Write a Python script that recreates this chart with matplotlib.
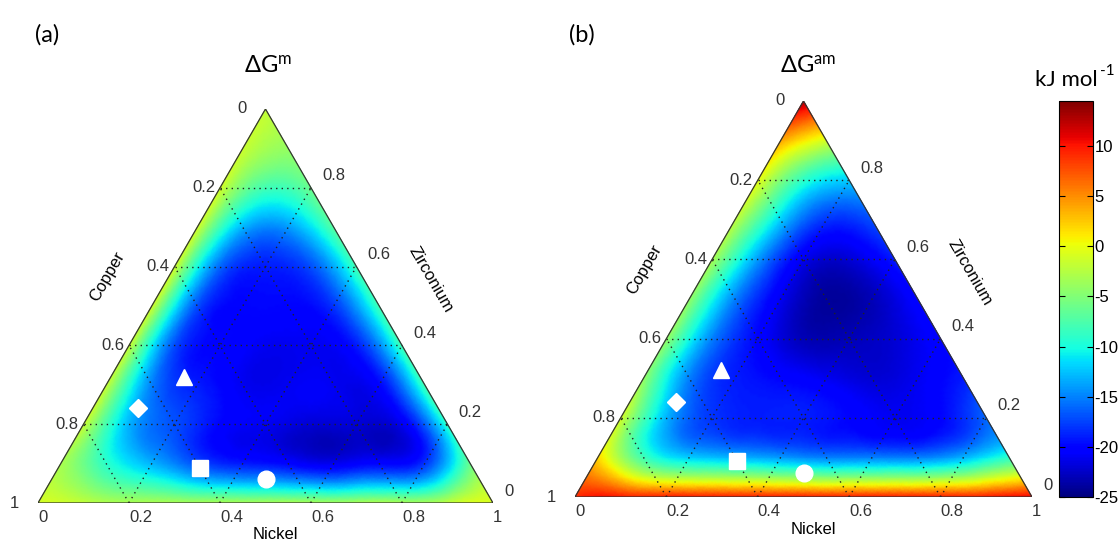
import numpy as np
import matplotlib
matplotlib.use("Agg")
import matplotlib.pyplot as plt
import matplotlib.tri as mtri

plt.rcParams["axes.unicode_minus"] = False
plt.rcParams["font.family"] = ["Liberation Sans", "DejaVu Sans"]

# field values (kJ/mol) on a 0.1 composition grid
# row j -> Zirconium = j/10 ; entry i -> Nickel = i/10 ; Copper = rest
gm_rows = [
    [-1, -2, -3, -3, -3, -3, -3, -3, -3, -2, -1],
    [-3, -9, -13, -17, -19, -20, -21, -20, -18, -6],
    [-1.5, -13, -17, -20, -21, -22, -22, -21, -9],
    [-1.5, -15, -19, -21, -21, -21, -20, -8],
    [-1.5, -17, -20, -21, -21, -19, -8],
    [-1, -17, -20, -20, -18, -8],
    [-1, -16, -19, -17, -8],
    [-1, -13, -14, -7],
    [-1, -8, -6],
    [-1.5, -4],
    [-2],
]
gam_rows = [
    [9, 10, 10, 10, 10, 10, 10, 10, 10, 10, 11],
    [2, -8, -12, -13, -14, -15, -15, -15, -13, -9],
    [-1, -13, -18, -19, -19, -20, -21, -20, -16],
    [-4, -15, -19, -20, -21, -22, -21, -19],
    [-4, -15, -20, -23, -23, -22, -20],
    [-4, -15, -21, -24, -23, -20],
    [-3, -14, -21, -22, -19],
    [-2, -12, -18, -17],
    [0, -9, -12],
    [4, -1],
    [13],
]

# alloy compositions marked on both maps
marker_ni = [0.16, 0.10, 0.31, 0.47]
marker_zr = [0.32, 0.24, 0.09, 0.06]
marker_shape = ["^", "D", "s", "o"]
marker_size = [12, 9.5, 12, 12]

tick_vals = [0, 0.2, 0.4, 0.6, 0.8, 1]
tick_text = ["0", "0.2", "0.4", "0.6", "0.8", "1"]
cbar_ticks = [-25, -20, -15, -10, -5, 0, 5, 10]
vmin, vmax = -25, 14.5

H = np.sqrt(3) / 2
W, HT = 1119, 543


def tern(ni, zr):
    ni = np.asarray(ni, float)
    zr = np.asarray(zr, float)
    return ni + 0.5 * zr, H * zr


def panel(ax, rows):
    ni, zr, val, idx = [], [], [], {}
    for j, row in enumerate(rows):
        for i, v in enumerate(row):
            idx[(i, j)] = len(val)
            ni.append(i / 10)
            zr.append(j / 10)
            val.append(v)
    tris = []
    for j in range(10):
        for i in range(10 - j):
            tris.append([idx[(i, j)], idx[(i + 1, j)], idx[(i, j + 1)]])
            if i + j <= 8:
                tris.append([idx[(i + 1, j)], idx[(i + 1, j + 1)], idx[(i, j + 1)]])
    x, y = tern(ni, zr)
    tri = mtri.Triangulation(x, y, tris)
    tri_f, val_f = mtri.UniformTriRefiner(tri).refine_field(np.array(val, float), subdiv=4)
    pc = ax.tripcolor(tri_f, val_f, cmap="jet", vmin=vmin, vmax=vmax, shading="gouraud")

    # dotted grid
    for t in [0.2, 0.4, 0.6, 0.8]:
        for a, b in [((0, t), (1 - t, t)), ((t, 0), (t, 1 - t)), ((1 - t, 0), (0, 1 - t))]:
            gx, gy = tern([a[0], b[0]], [a[1], b[1]])
            ax.plot(gx, gy, color="#222222", lw=1.0, ls=(0, (1, 3)))
    ex, ey = tern([0, 1, 0, 0], [0, 0, 1, 0])
    ax.plot(ex, ey, color="#333333", lw=0.9)

    # tick labels
    for v, s in zip(tick_vals, tick_text):
        px, py = tern(0, 1 - v)          # Copper along left edge
        ax.annotate(s, (px, py), xytext=(-28, 0), textcoords="offset pixels",
                    ha="left", va="center", fontsize=12, color="#333333")
        px, py = tern(v, 0)              # Nickel along bottom
        ax.annotate(s, (px, py), xytext=(0, -14), textcoords="offset pixels",
                    ha="left", va="center", fontsize=12, color="#333333")
        if v < 1:
            px, py = tern(1 - v, v)      # Zirconium along right edge
            ax.annotate(s, (px, py), xytext=(11, 12), textcoords="offset pixels",
                        ha="left", va="center", fontsize=12, color="#333333")

    ax.text(0.152, 0.497, "Copper", rotation=60, ha="center", va="center", fontsize=12)
    ax.text(0.864, 0.490, "Zirconium", rotation=-60, ha="center", va="center", fontsize=12)
    ax.text(0.521, -0.070, "Nickel", ha="center", va="center", fontsize=12)

    mx, my = tern(marker_ni, marker_zr)
    for k in range(len(mx)):
        ax.plot(mx[k], my[k], marker_shape[k], color="white", mec="white",
                ms=marker_size[k], clip_on=False)

    ax.set_xlim(0, 1)
    ax.set_ylim(0, H)
    ax.axis("off")
    return pc


fig = plt.figure(figsize=(W / 100, HT / 100), dpi=100)
ax_a = fig.add_axes([38 / W, 40 / HT, 455 / W, 394 / HT])
ax_b = fig.add_axes([575 / W, 46 / HT, 457 / W, 396 / HT])
panel(ax_a, gm_rows)
pc = panel(ax_b, gam_rows)

cal = ["Lato", "DejaVu Sans"]
fig.text(47 / W, 1 - 35 / HT, "(a)", fontsize=17, ha="center", va="center", family=cal)
fig.text(582 / W, 1 - 35 / HT, "(b)", fontsize=17, ha="center", va="center", family=cal)
fig.text(268 / W, 1 - 66 / HT, r"$\mathregular{\Delta G^{m}}$", fontsize=17,
         ha="center", va="center", family=cal)
fig.text(808 / W, 1 - 66 / HT, r"$\mathregular{\Delta G^{am}}$", fontsize=17,
         ha="center", va="center", family=cal)
fig.text(1066 / W, 1 - 80 / HT, "kJ mol", fontsize=16, ha="center", va="center", family=cal)
fig.text(1100 / W, 1 - 71 / HT, "-1", fontsize=11, ha="left", va="center", family=cal)

cax = fig.add_axes([1059 / W, 46 / HT, 34 / W, 396 / HT])
cb = fig.colorbar(pc, cax=cax, ticks=cbar_ticks)
cb.ax.tick_params(direction="in", length=4, left=True, right=True, labelsize=12, pad=1)
cb.outline.set_linewidth(0.8)

fig.savefig("out.png", dpi=100)
